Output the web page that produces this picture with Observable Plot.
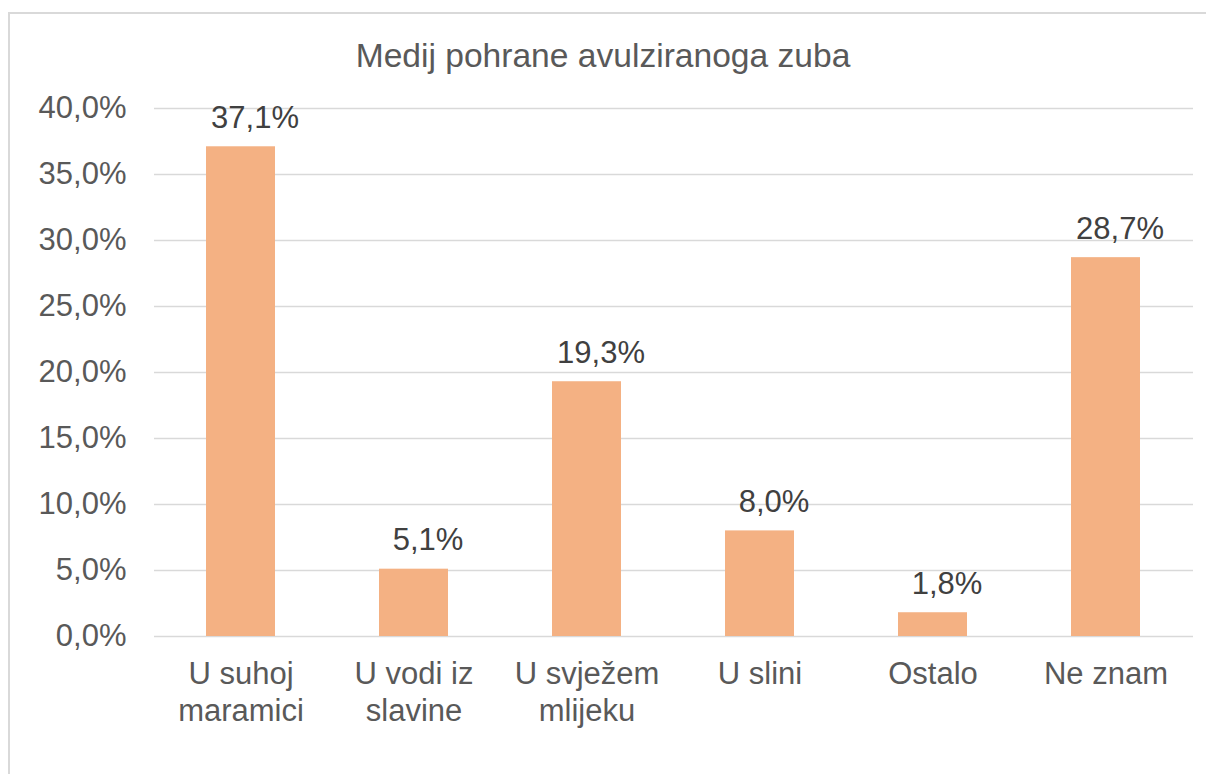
<!DOCTYPE html>
<html>
<head>
<meta charset="utf-8">
<script src="https://cdn.jsdelivr.net/npm/d3@7"></script>
<script src="https://cdn.jsdelivr.net/npm/@observablehq/plot@0.6"></script>
<style>
  html, body { margin: 0; padding: 0; background: #fff; overflow: hidden; width: 1206px; height: 774px; }
  #frame { position: absolute; left: 8px; top: 12px; width: 1400px; height: 1000px; border: 2px solid #d9d9d9; box-sizing: border-box; }
  #title { position: absolute; left: 0; top: 39px; width: 1206px; text-align: center; font-family: "Liberation Sans", Arial, sans-serif; font-size: 33.6px; line-height: 33px; color: #595959; }
  #chart { position: absolute; left: 0; top: 0; }
</style>
</head>
<body>
<div id="frame"></div>
<div id="chart"></div>
<div id="title">Medij pohrane avulziranoga zuba</div>
<script>
const categories = ["U suhoj\nmaramici", "U vodi iz\nslavine", "U svježem\nmlijeku", "U slini", "Ostalo", "Ne znam"];
const values = [0.371, 0.051, 0.193, 0.080, 0.018, 0.287];
const yTicks = [0, 0.05, 0.10, 0.15, 0.20, 0.25, 0.30, 0.35, 0.40];

const data = categories.map((c, i) => ({category: c, value: values[i]}));
const fmt = d => (d * 100).toFixed(1).replace(".", ",") + "%";

const chart = Plot.plot({
  width: 1206,
  height: 774,
  marginTop: 108,
  marginBottom: 138,
  marginLeft: 154,
  marginRight: 13,
  style: {fontFamily: '"Liberation Sans", Arial, sans-serif', fontSize: "31px", color: "#595959", background: "transparent"},
  x: {domain: categories, paddingInner: 0.6, paddingOuter: 0.3, axis: null},
  y: {domain: [0, 0.4], ticks: yTicks, tickFormat: fmt},
  marks: [
    Plot.ruleY(yTicks, {stroke: "#d9d9d9", strokeWidth: 1.5}),
    Plot.axisY({ticks: yTicks, tickFormat: fmt, tickSize: 0, tickPadding: 28, label: null, fill: "#595959"}),
    Plot.barY(data, {x: "category", y: "value", fill: "#f4b183"}),
    Plot.text(data, {x: "category", y: "value", text: d => fmt(d.value), lineAnchor: "bottom", dy: -19, dx: 14, fill: "#404040"}),
    Plot.text(categories, {x: d => d, frameAnchor: "bottom", lineAnchor: "top", dy: 21, lineHeight: 1.2, fill: "#595959"})
  ]
});
document.getElementById("chart").appendChild(chart);
</script>
</body>
</html>
